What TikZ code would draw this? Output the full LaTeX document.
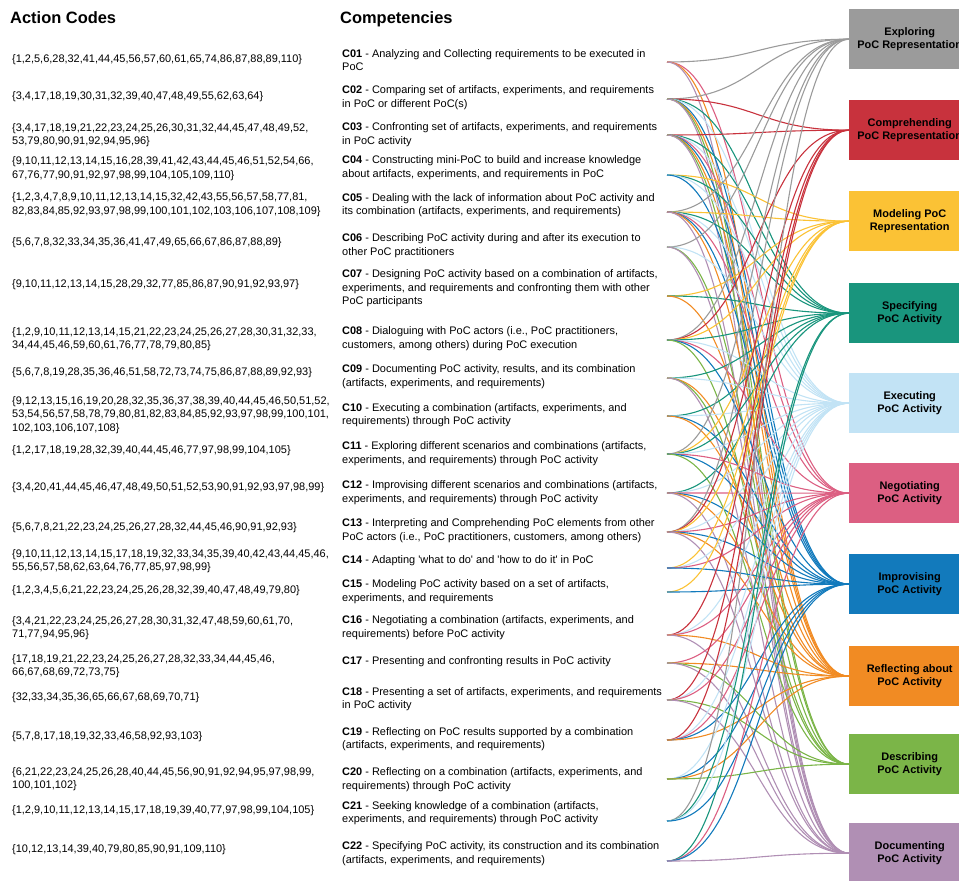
\documentclass[tikz,border=0pt]{standalone}
\usepackage{fontspec}
\setmainfont{Liberation Sans}
\definecolor{Expl}{HTML}{9B9B9B}
\definecolor{Comp}{HTML}{C8323D}
\definecolor{Modl}{HTML}{FBC235}
\definecolor{Spec}{HTML}{19957D}
\definecolor{Exec}{HTML}{C2E3F5}
\definecolor{Nego}{HTML}{DC5F82}
\definecolor{Impr}{HTML}{127ABC}
\definecolor{Refl}{HTML}{F18B23}
\definecolor{Desc}{HTML}{7BB548}
\definecolor{Docu}{HTML}{B08FB4}
\tikzset{
  TitleText/.style = {anchor=base west, inner sep=0pt, font=\fontsize{16.5}{20}\selectfont\bfseries},
  CodeText/.style = {anchor=west, align=left, inner sep=0pt, font=\fontsize{11}{13.5}\selectfont},
  CompText/.style = {anchor=west, align=left, inner sep=0pt, font=\fontsize{11}{13.5}\selectfont},
  CatBox/.style = {rectangle, anchor=north west, align=center, inner sep=0pt, minimum width=121bp, minimum height=60bp, font=\fontsize{11}{13.5}\selectfont\bfseries},
  Link/.style = {line width=1.1bp}
}
\begin{document}
\begin{tikzpicture}[x=1bp, y=-1bp]
\useasboundingbox (0,0) rectangle (959,881);
\node [TitleText] (codetitle) at (10,23) {Action Codes};
\node [TitleText] (comptitle) at (340,23) {Competencies};
% action codes
\node [CodeText] (a01) at (12,60) {\{1,2,5,6,28,32,41,44,45,56,57,60,61,65,74,86,87,88,89,110\}};
\node [CodeText] (a02) at (12,97) {\{3,4,17,18,19,30,31,32,39,40,47,48,49,55,62,63,64\}};
\node [CodeText] (a03) at (12,135) {\{3,4,17,18,19,21,22,23,24,25,26,30,31,32,44,45,47,48,49,52,\\53,79,80,90,91,92,94,95,96\}};
\node [CodeText] (a04) at (12,168.5) {\{9,10,11,12,13,14,15,16,28,39,41,42,43,44,45,46,51,52,54,66,\\67,76,77,90,91,92,97,98,99,104,105,109,110\}};
\node [CodeText] (a05) at (12,204.5) {\{1,2,3,4,7,8,9,10,11,12,13,14,15,32,42,43,55,56,57,58,77,81,\\82,83,84,85,92,93,97,98,99,100,101,102,103,106,107,108,109\}};
\node [CodeText] (a06) at (12,243) {\{5,6,7,8,32,33,34,35,36,41,47,49,65,66,67,86,87,88,89\}};
\node [CodeText] (a07) at (12,285) {\{9,10,11,12,13,14,15,28,29,32,77,85,86,87,90,91,92,93,97\}};
\node [CodeText] (a08) at (12,339) {\{1,2,9,10,11,12,13,14,15,21,22,23,24,25,26,27,28,30,31,32,33,\\34,44,45,46,59,60,61,76,77,78,79,80,85\}};
\node [CodeText] (a09) at (12,373) {\{5,6,7,8,19,28,35,36,46,51,58,72,73,74,75,86,87,88,89,92,93\}};
\node [CodeText] (a10) at (12,415) {\{9,12,13,15,16,19,20,28,32,35,36,37,38,39,40,44,45,46,50,51,52,\\53,54,56,57,58,78,79,80,81,82,83,84,85,92,93,97,98,99,100,101,\\102,103,106,107,108\}};
\node [CodeText] (a11) at (12,451) {\{1,2,17,18,19,28,32,39,40,44,45,46,77,97,98,99,104,105\}};
\node [CodeText] (a12) at (12,488) {\{3,4,20,41,44,45,46,47,48,49,50,51,52,53,90,91,92,93,97,98,99\}};
\node [CodeText] (a13) at (12,528) {\{5,6,7,8,21,22,23,24,25,26,27,28,32,44,45,46,90,91,92,93\}};
\node [CodeText] (a14) at (12,561) {\{9,10,11,12,13,14,15,17,18,19,32,33,34,35,39,40,42,43,44,45,46,\\55,56,57,58,62,63,64,76,77,85,97,98,99\}};
\node [CodeText] (a15) at (12,591) {\{1,2,3,4,5,6,21,22,23,24,25,26,28,32,39,40,47,48,49,79,80\}};
\node [CodeText] (a16) at (12,628) {\{3,4,21,22,23,24,25,26,27,28,30,31,32,47,48,59,60,61,70,\\71,77,94,95,96\}};
\node [CodeText] (a17) at (12,666) {\{17,18,19,21,22,23,24,25,26,27,28,32,33,34,44,45,46,\\66,67,68,69,72,73,75\}};
\node [CodeText] (a18) at (12,698) {\{32,33,34,35,36,65,66,67,68,69,70,71\}};
\node [CodeText] (a19) at (12,737) {\{5,7,8,17,18,19,32,33,46,58,92,93,103\}};
\node [CodeText] (a20) at (12,779) {\{6,21,22,23,24,25,26,28,40,44,45,56,90,91,92,94,95,97,98,99,\\100,101,102\}};
\node [CodeText] (a21) at (12,811) {\{1,2,9,10,11,12,13,14,15,17,18,19,39,40,77,97,98,99,104,105\}};
\node [CodeText] (a22) at (12,850) {\{10,12,13,14,39,40,79,80,85,90,91,109,110\}};
% competencies
\node [CompText] (c01) at (342,60) {\textbf{C01} - Analyzing and Collecting requirements to be executed in\\PoC};
\node [CompText] (c02) at (342,97.5) {\textbf{C02} - Comparing set of artifacts, experiments, and requirements\\in PoC or different PoC(s)};
\node [CompText] (c03) at (342,134.5) {\textbf{C03} - Confronting set of artifacts, experiments, and requirements\\in PoC activity};
\node [CompText] (c04) at (342,167.5) {\textbf{C04} - Constructing mini-PoC to build and increase knowledge\\about artifacts, experiments, and requirements in PoC};
\node [CompText] (c05) at (342,205) {\textbf{C05} - Dealing with the lack of information about PoC activity and\\its combination (artifacts, experiments, and requirements)};
\node [CompText] (c06) at (342,245.5) {\textbf{C06} - Describing PoC activity during and after its execution to\\other PoC practitioners};
\node [CompText] (c07) at (342,288.5) {\textbf{C07} - Designing PoC activity based on a combination of artifacts,\\experiments, and requirements and confronting them with other\\PoC participants};
\node [CompText] (c08) at (342,338.5) {\textbf{C08} - Dialoguing with PoC actors (i.e., PoC practitioners,\\customers, among others) during PoC execution};
\node [CompText] (c09) at (342,376.5) {\textbf{C09} - Documenting PoC activity, results, and its combination\\(artifacts, experiments, and requirements)};
\node [CompText] (c10) at (342,415) {\textbf{C10} - Executing a combination (artifacts, experiments, and\\requirements) through PoC activity};
\node [CompText] (c11) at (342,453.5) {\textbf{C11} - Exploring different scenarios and combinations (artifacts,\\experiments, and requirements) through PoC activity};
\node [CompText] (c12) at (342,492.5) {\textbf{C12} - Improvising different scenarios and combinations (artifacts,\\experiments, and requirements) through PoC activity};
\node [CompText] (c13) at (342,530.5) {\textbf{C13} - Interpreting and Comprehending PoC elements from other\\PoC actors (i.e., PoC practitioners, customers, among others)};
\node [CompText] (c14) at (342,561) {\textbf{C14} - Adapting \textquotesingle what to do\textquotesingle{} and \textquotesingle how to do it\textquotesingle{} in PoC};
\node [CompText] (c15) at (342,591.5) {\textbf{C15} - Modeling PoC activity based on a set of artifacts,\\experiments, and requirements};
\node [CompText] (c16) at (342,627.5) {\textbf{C16} - Negotiating a combination (artifacts, experiments, and\\requirements) before PoC activity};
\node [CompText] (c17) at (342,662) {\textbf{C17} - Presenting and confronting results in PoC activity};
\node [CompText] (c18) at (342,699) {\textbf{C18} - Presenting a set of artifacts, experiments, and requirements\\in PoC activity};
\node [CompText] (c19) at (342,739) {\textbf{C19} - Reflecting on PoC results supported by a combination\\(artifacts, experiments, and requirements)};
\node [CompText] (c20) at (342,779.5) {\textbf{C20} - Reflecting on a combination (artifacts, experiments, and\\requirements) through PoC activity};
\node [CompText] (c21) at (342,813) {\textbf{C21} - Seeking knowledge of a combination (artifacts,\\experiments, and requirements) through PoC activity};
\node [CompText] (c22) at (342,853.5) {\textbf{C22} - Specifying PoC activity, its construction and its combination\\(artifacts, experiments, and requirements)};
% link start points
\foreach \i/\y in {01/62,02/99,03/135,04/175,05/212,06/247,07/296,08/340,09/378,10/416,11/454,
                   12/493,13/532,14/568,15/592,16/635,17/663,18/700,19/740,20/779,21/821,22/861}
  \coordinate (s\i) at (667,\y);
% categories
\node [CatBox, fill=Expl] (Expl) at (849,9) {Exploring\\PoC Representation};
\node [CatBox, fill=Comp] (Comp) at (849,100) {Comprehending\\PoC Representation};
\node [CatBox, fill=Modl] (Modl) at (849,191) {Modeling PoC\\Representation};
\node [CatBox, fill=Spec] (Spec) at (849,283) {Specifying\\PoC Activity};
\node [CatBox, fill=Exec] (Exec) at (849,373) {Executing\\PoC Activity};
\node [CatBox, fill=Nego] (Nego) at (849,463) {Negotiating\\PoC Activity};
\node [CatBox, fill=Impr] (Impr) at (849,554) {Improvising\\PoC Activity};
\node [CatBox, fill=Refl] (Refl) at (849,646) {Reflecting about\\PoC Activity};
\node [CatBox, fill=Desc] (Desc) at (849,734) {Describing\\PoC Activity};
\node [CatBox, fill=Docu] (Docu) at (849,823) {Documenting\\PoC Activity};
% links
\foreach \s/\t in {01/Expl,01/Nego,01/Refl,01/Docu,
    02/Expl,02/Comp,02/Spec,02/Exec,02/Impr,02/Refl,02/Desc,02/Docu,
    03/Comp,03/Spec,03/Exec,03/Nego,03/Impr,03/Refl,03/Desc,03/Docu,
    04/Modl,04/Spec,04/Exec,04/Impr,
    05/Expl,05/Modl,05/Spec,05/Exec,05/Nego,05/Impr,05/Refl,05/Docu,
    06/Expl,06/Exec,06/Desc,06/Docu,
    07/Modl,07/Spec,07/Refl,
    08/Expl,08/Comp,08/Modl,08/Spec,08/Exec,08/Nego,08/Impr,08/Desc,
    09/Spec,09/Exec,09/Refl,09/Desc,09/Docu,
    10/Spec,10/Exec,10/Impr,10/Refl,
    11/Expl,11/Modl,11/Spec,11/Exec,11/Nego,11/Impr,11/Desc,
    12/Spec,12/Exec,12/Nego,12/Impr,12/Refl,12/Docu,
    13/Expl,13/Comp,13/Modl,13/Exec,13/Nego,13/Impr,13/Refl,13/Docu,
    14/Modl,14/Exec,14/Nego,14/Impr,
    15/Modl,15/Impr,
    16/Comp,16/Exec,16/Nego,16/Refl,16/Docu,
    17/Nego,17/Refl,17/Desc,17/Docu,
    18/Comp,18/Exec,18/Nego,18/Desc,18/Docu,
    19/Comp,19/Exec,19/Nego,19/Impr,19/Refl,
    20/Exec,20/Impr,20/Refl,20/Desc,
    21/Expl,21/Spec,21/Exec,21/Impr,
    22/Spec,22/Nego,22/Impr,22/Docu}
  \draw [Link, draw=\t] (s\s) .. controls +(90,0) and +(-90,0) .. (\t.west);
\end{tikzpicture}
\end{document}
